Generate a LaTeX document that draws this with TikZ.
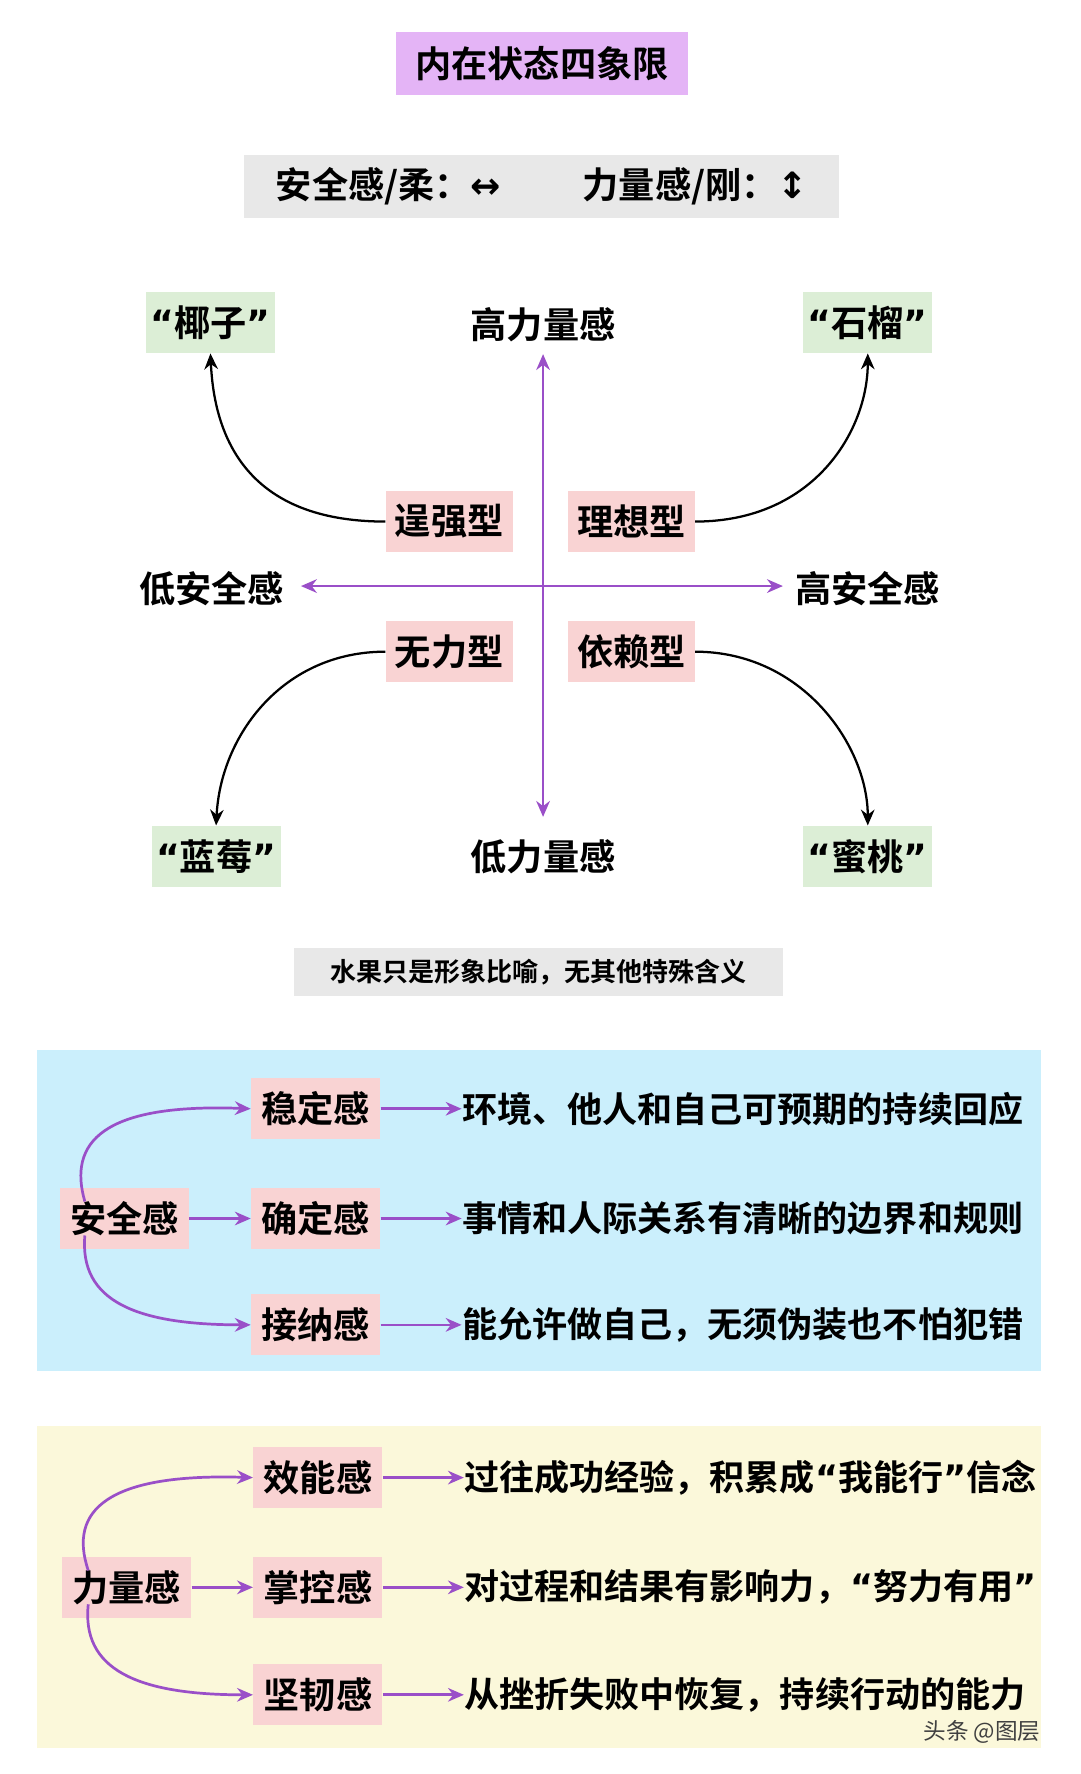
\documentclass[tikz,border=0pt]{standalone}
\usepackage{fontspec}
\setmainfont{Noto Sans CJK SC}[BoldFont={* Bold}]
\newfontfamily\sym{DejaVu Sans}
\newcommand{\myLq}{{\sym\bfseries “}}
\newcommand{\myRq}{{\sym\bfseries ”}}
\usetikzlibrary{arrows.meta}
\definecolor{pur}{HTML}{9A4FC8}
\definecolor{tbg}{HTML}{E4B4F6}
\definecolor{gbg}{HTML}{E8E8E8}
\definecolor{pbg}{HTML}{F9D3D3}
\definecolor{fbg}{HTML}{DCEED6}
\definecolor{bbg}{HTML}{CBEFFC}
\definecolor{ybg}{HTML}{FBF8DA}
\begin{document}
\begin{tikzpicture}[x=0.5pt,y=-0.5pt,
  lab/.style={font=\fontsize{16}{18}\selectfont\bfseries,inner sep=1.5pt},
  pk/.style={lab,fill=pbg,minimum height=27pt},
  fr/.style={lab,fill=fbg,minimum height=27pt,inner xsep=2pt},
  desc/.style={font=\fontsize{15.5}{17}\selectfont\bfseries,anchor=west,inner sep=0pt},
  parr/.style={pur,line width=1.2pt,-{Stealth[length=7pt,width=6pt]}},
  barr/.style={black,line width=1pt,-{Stealth[length=7pt,width=6pt]}}]
\useasboundingbox (0,0) rectangle (955,1568);
\fill[white] (0,0) rectangle (955,1568);
% header
\node[lab,fill=tbg,minimum width=129pt,minimum height=28pt] (title) at (479,56) {内在状态四象限};
\node[lab,fill=gbg,minimum width=263pt,minimum height=28pt] (legend) at (479,165) {安全感/柔：{\sym ↔}\hspace{36pt}力量感/刚：{\sym ↕}};
% axes
\node[lab] (hp) at (480,287) {高力量感};
\node[lab] (lp) at (480,757) {低力量感};
\node[lab] (ls) at (187,520) {低安全感};
\node[lab] (hs) at (767,520) {高安全感};
\draw[pur,line width=1.2pt,{Stealth[length=7pt,width=6pt]}-{Stealth[length=7pt,width=6pt]}] (480,313) -- (480,722);
\draw[pur,line width=1.2pt,{Stealth[length=7pt,width=6pt]}-{Stealth[length=7pt,width=6pt]}] (266,518) -- (692,518);
% types
\node[pk,minimum width=56pt] (q1) at (397,461) {逞强型};
\node[pk,minimum width=56pt] (q2) at (558,461) {理想型};
\node[pk,minimum width=56pt] (q3) at (397,576) {无力型};
\node[pk,minimum width=56pt] (q4) at (558,576) {依赖型};
\node[fr] (f1) at (186,285) {\myLq 椰子\myRq};
\node[fr] (f2) at (767,285) {\myLq 石榴\myRq};
\node[fr] (f3) at (191,757) {\myLq 蓝莓\myRq};
\node[fr] (f4) at (767,757) {\myLq 蜜桃\myRq};
\draw[barr] (q1.west) .. controls (230,461) and (190,400) .. (f1.south);
\draw[barr] (q2.east) .. controls (720,461) and (767,380) .. (f2.south);
\draw[barr] (q3.west) .. controls (250,576) and (195,650) .. (f3.north);
\draw[barr] (q4.east) .. controls (710,576) and (767,660) .. (f4.north);
\node[font=\fontsize{11.5}{13}\selectfont\bfseries,fill=gbg,minimum width=216pt,minimum height=21pt] (note) at (476,859) {水果只是形象比喻，无其他特殊含义};
% blue panel
\fill[bbg] (33,928) rectangle (920,1212);
\node[pk,minimum width=57pt] (s) at (110,1077) {安全感};
\node[pk,minimum width=57pt] (s1) at (279,980) {稳定感};
\node[pk,minimum width=57pt] (s2) at (279,1077) {确定感};
\node[pk,minimum width=57pt] (s3) at (279,1171) {接纳感};
\node[desc] (d1) at (408,980) {环境、他人和自己可预期的持续回应};
\node[desc] (d2) at (408,1077) {事情和人际关系有清晰的边界和规则};
\node[desc] (d3) at (408,1171) {能允许做自己，无须伪装也不怕犯错};
\draw[parr] (75,1062) .. controls (60,1010) and (90,975) .. (s1.west);
\draw[parr] (s) -- (s2);
\draw[parr] (75,1092) .. controls (70,1150) and (120,1171) .. (s3.west);
\draw[parr] (s1) -- (d1);
\draw[parr] (s2) -- (d2);
\draw[parr] (s3) -- (d3);
% yellow panel
\fill[ybg] (33,1260) rectangle (920,1545);
\node[pk,minimum width=57pt] (p) at (112,1403) {力量感};
\node[pk,minimum width=57pt] (p1) at (281,1306) {效能感};
\node[pk,minimum width=57pt] (p2) at (281,1403) {掌控感};
\node[pk,minimum width=57pt] (p3) at (281,1498) {坚韧感};
\node[desc] (e1) at (410,1306) {过往成功经验，积累成\myLq 我能行\myRq 信念};
\node[desc] (e2) at (410,1403) {对过程和结果有影响力，\myLq 努力有用\myRq};
\node[desc] (e3) at (410,1498) {从挫折失败中恢复，持续行动的能力};
\draw[parr] (78,1388) .. controls (60,1335) and (95,1302) .. (p1.west);
\draw[parr] (78,1418) .. controls (72,1475) and (120,1498) .. (p3.west);
\draw[parr] (p) -- (p2);
\draw[parr] (p1) -- (e1);
\draw[parr] (p2) -- (e2);
\draw[parr] (p3) -- (e3);
\node[font=\fontsize{10}{12}\selectfont,text=black!75] (wm) at (868,1531) {头条 @图层};
\end{tikzpicture}
\end{document}
